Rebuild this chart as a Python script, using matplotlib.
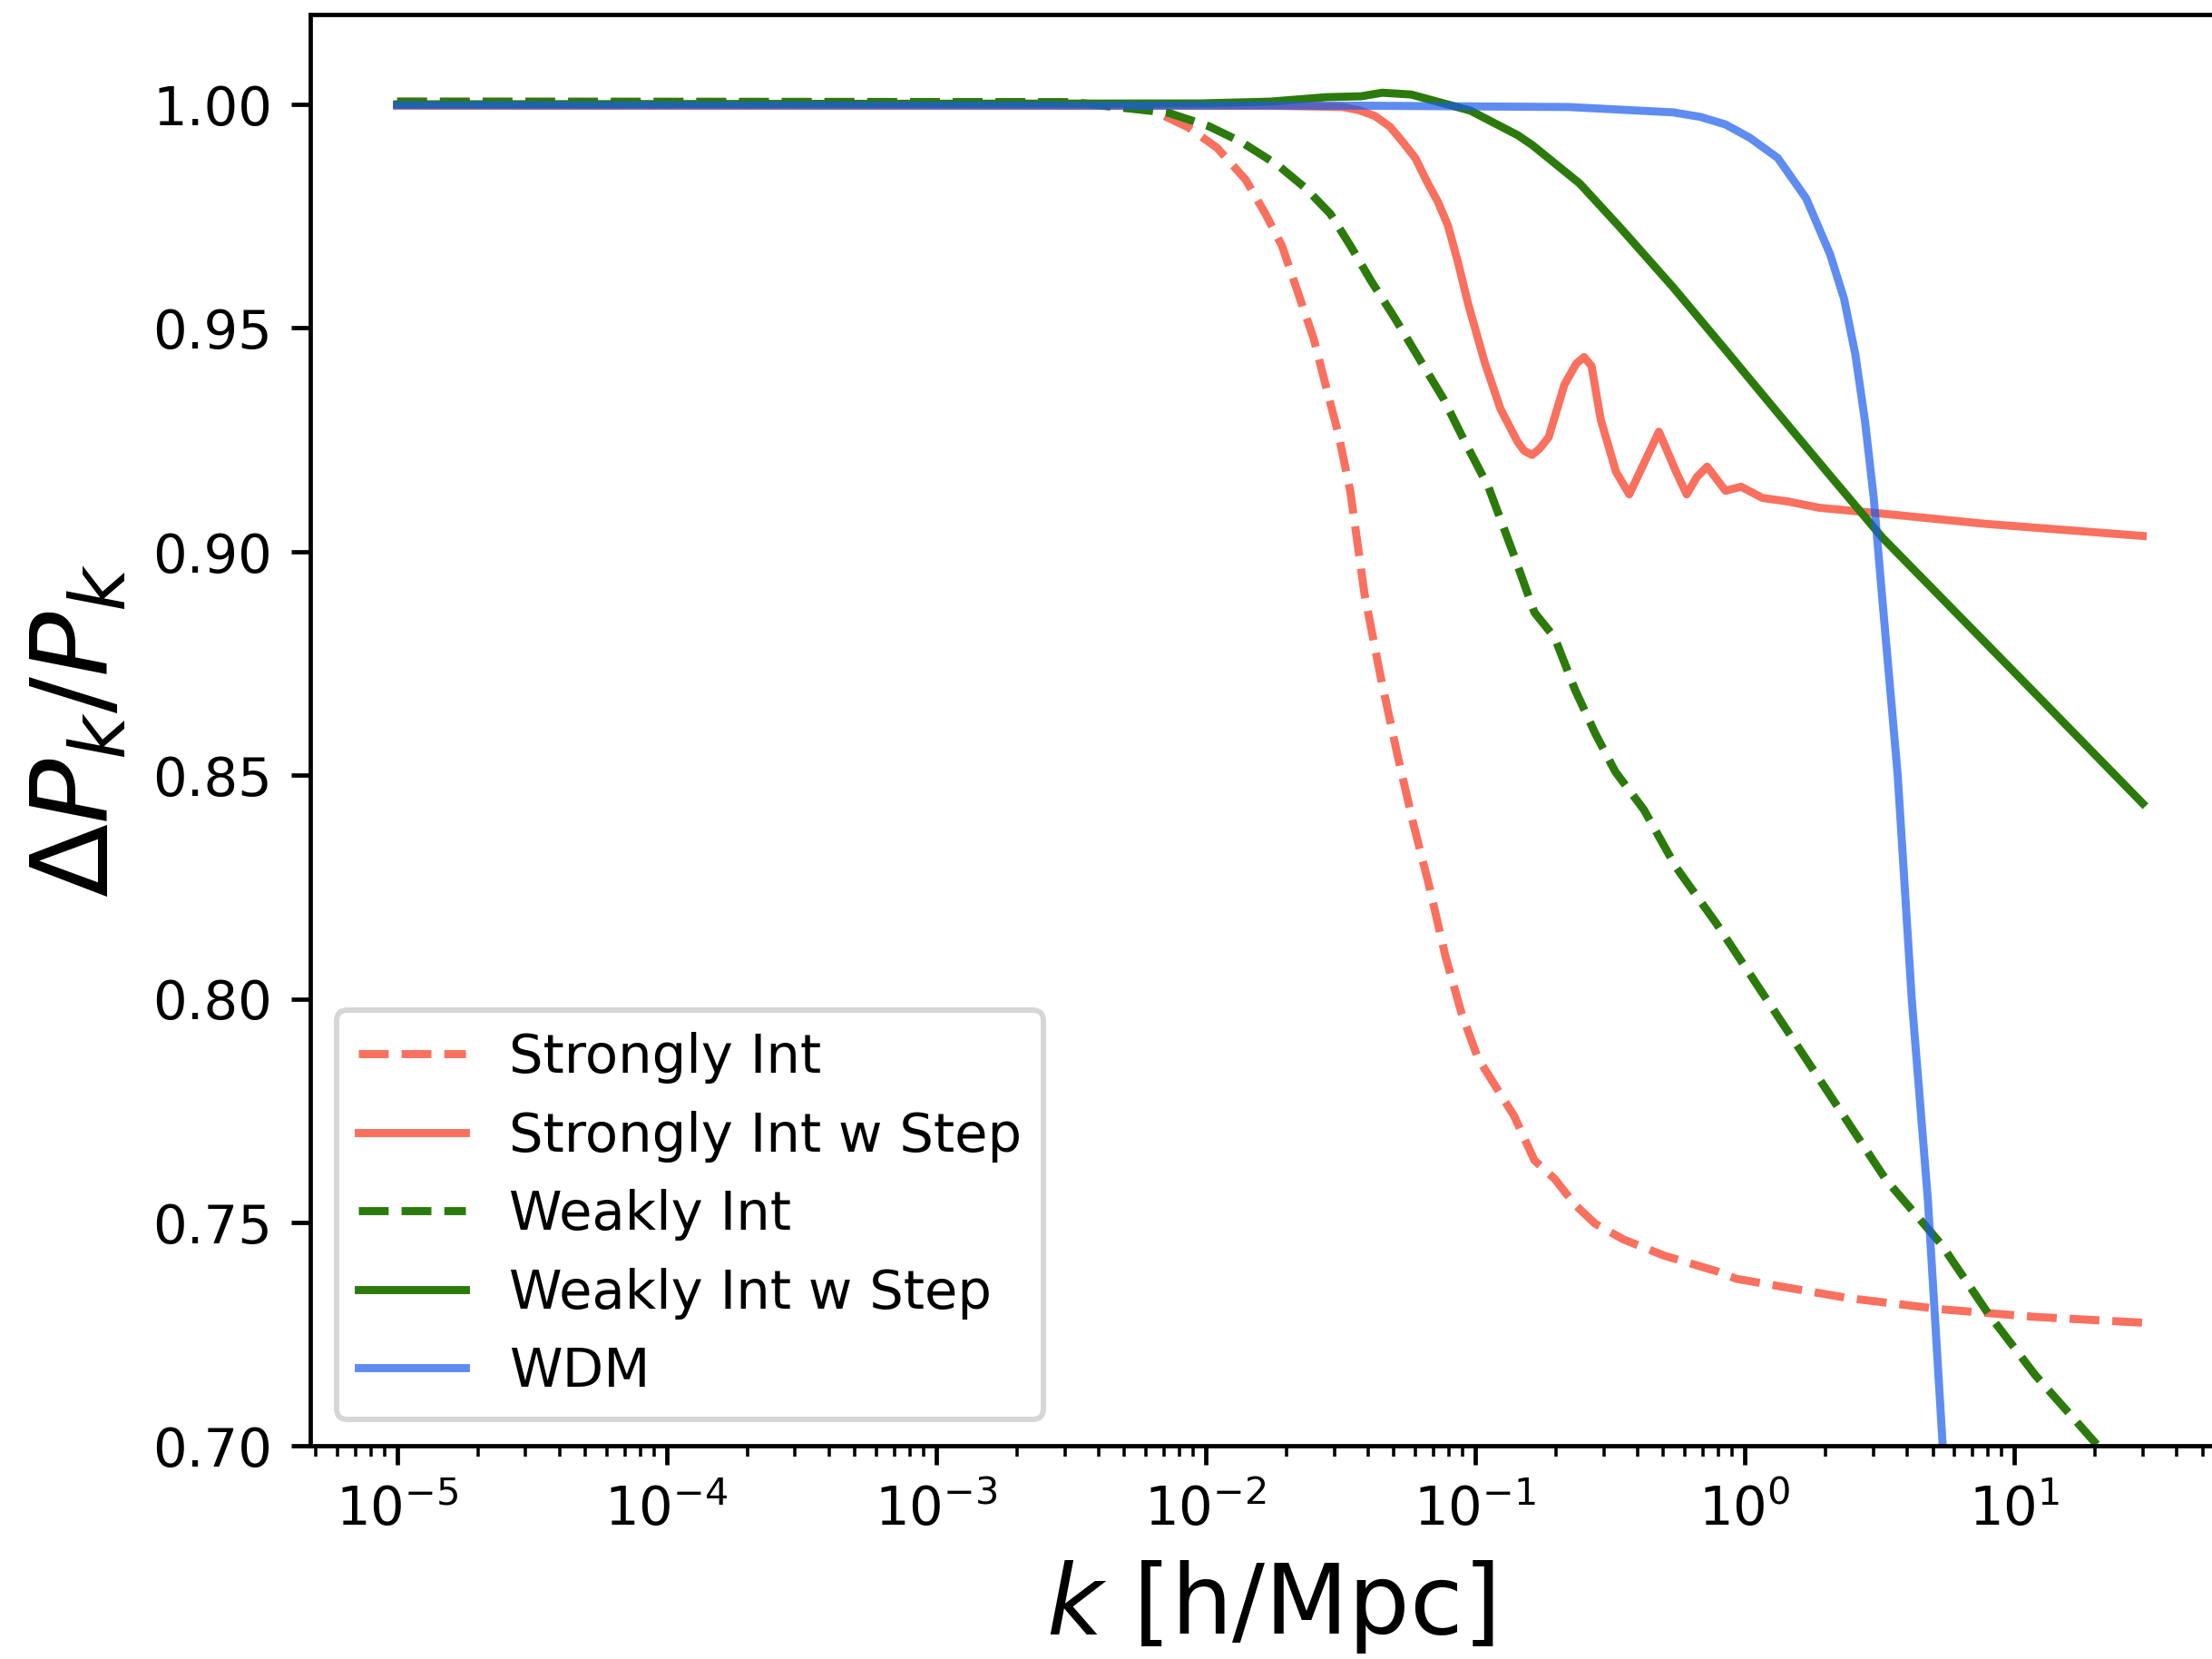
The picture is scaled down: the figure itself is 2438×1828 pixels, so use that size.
import numpy as np
from matplotlib import pyplot as plt

# values; k given as log10(k [h/Mpc])
strong_logk = [-5.0, -2.546, -2.198, -2.063, -1.958, -1.852, -1.778, -1.717, -1.658,
               -1.599, -1.552, -1.507, -1.463, -1.411, -1.351, -1.290, -1.230, -1.170,
               -1.110, -1.050, -0.990, -0.930, -0.856, -0.780, -0.704, -0.630, -0.554,
               -0.449, -0.299, -0.103, -0.030, 0.385, 0.730, 1.078, 1.477]
strong_pk = [1.0006, 1.0005, 0.9987, 0.9948, 0.9903, 0.9832, 0.9755, 0.9684, 0.9580,
             0.9476, 0.9366, 0.9262, 0.9134, 0.8907, 0.8721, 0.8550, 0.8393, 0.8251,
             0.8095, 0.7967, 0.7868, 0.7810, 0.7739, 0.7639, 0.7597, 0.7540, 0.7497,
             0.7462, 0.7426, 0.7391, 0.7374, 0.7331, 0.7306, 0.7289, 0.7276]

strong_step_logk = [-5.0, -1.761, -1.492, -1.431, -1.372, -1.316, -1.269, -1.222, -1.177,
                    -1.138, -1.101, -1.065, -1.026, -0.965, -0.906, -0.843, -0.819, -0.789,
                    -0.761, -0.727, -0.669, -0.625, -0.596, -0.568, -0.534, -0.477, -0.428,
                    -0.370, -0.318, -0.254, -0.215, -0.177, -0.139, -0.071, -0.013, 0.066,
                    0.161, 0.277, 0.510, 0.895, 1.477]
strong_step_pk = [0.9997, 0.9997, 0.9994, 0.9987, 0.9974, 0.9950, 0.9916, 0.9880, 0.9825,
                  0.9782, 0.9729, 0.9650, 0.9554, 0.9424, 0.9319, 0.9246, 0.9226, 0.9216,
                  0.9230, 0.9256, 0.9373, 0.9420, 0.9435, 0.9415, 0.9295, 0.9178, 0.9128,
                  0.9202, 0.9268, 0.9178, 0.9128, 0.9167, 0.9190, 0.9136, 0.9145, 0.9120,
                  0.9112, 0.9098, 0.9085, 0.9062, 0.9035]

weak_logk = [-5.0, -2.493, -2.138, -1.988, -1.868, -1.732, -1.628, -1.537, -1.462, -1.387,
             -1.297, -1.207, -1.117, -1.041, -0.951, -0.856, -0.780, -0.705, -0.630,
             -0.554, -0.480, -0.374, -0.254, -0.103, 0.524, 0.730, 0.903, 1.078, 1.309,
             1.477]
weak_pk = [1.0006, 1.0005, 0.9981, 0.9951, 0.9916, 0.9864, 0.9812, 0.9755, 0.9683, 0.9606,
           0.9521, 0.9431, 0.9341, 0.9249, 0.9145, 0.8992, 0.8864, 0.8808, 0.8692,
           0.8593, 0.8508, 0.8423, 0.8294, 0.8167, 0.7596, 0.7451, 0.7297, 0.7159, 0.7002,
           0.6880]

weak_step_logk = [-5.0, -2.023, -1.761, -1.552, -1.423, -1.345, -1.238, -1.018, -0.842,
                  -0.788, -0.612, -0.458, -0.264, -0.071, 0.123, 0.317, 0.510, 0.798,
                  1.117, 1.477]
weak_step_pk = [1.0, 1.0002, 1.0006, 1.0016, 1.0018, 1.0026, 1.0022, 0.9986, 0.9931,
                0.9909, 0.9823, 0.9722, 0.9590, 0.9451, 0.9310, 0.9170, 0.9032, 0.8855,
                0.8659, 0.8437]

wdm_logk = [-5.0, -1.421, -0.652, -0.264, -0.165, -0.071, 0.020, 0.123, 0.228, 0.317,
            0.369, 0.411, 0.447, 0.479, 0.510, 0.568, 0.620, 0.680, 0.735, 0.751]
wdm_pk = [0.9998, 0.9997, 0.9994, 0.9982, 0.9972, 0.9955, 0.9925, 0.9880, 0.9790, 0.9665,
          0.9565, 0.9440, 0.9290, 0.9120, 0.8900, 0.8500, 0.8000, 0.7550, 0.700, 0.676]

red = '#F9705F'
green = '#2B7A0B'
blue = '#1A5CEA'

DPI = 426.6
fig = plt.figure(figsize=(2438.3 / DPI, 1828.3 / DPI), dpi=DPI)
ax = fig.add_axes([341.5 / 2438, 1 - 1593.5 / 1828, 2116 / 2438, 1576.8 / 1828])

ax.plot(10 ** np.array(strong_logk), strong_pk, '--', color=red, lw=1.5, label='Strongly Int')
ax.plot(10 ** np.array(strong_step_logk), strong_step_pk, '-', color=red, lw=1.5,
        label='Strongly Int w Step')
ax.plot(10 ** np.array(weak_logk), weak_pk, '--', color=green, lw=1.5, label='Weakly Int')
ax.plot(10 ** np.array(weak_step_logk), weak_step_pk, '-', color=green, lw=1.5,
        label='Weakly Int w Step')
ax.plot(10 ** np.array(wdm_logk), wdm_pk, '-', color=blue, lw=1.5, alpha=0.7, label='WDM')

ax.set_xscale('log')
ax.set_ylim(0.70, 1.02)
ax.set_xlabel(r'$k$ [h/Mpc]', fontsize=18)
ax.set_ylabel(r'$\Delta P_k/P_k$', fontsize=20)
ax.legend(loc='lower left')

fig.savefig('out.png', dpi=DPI)
